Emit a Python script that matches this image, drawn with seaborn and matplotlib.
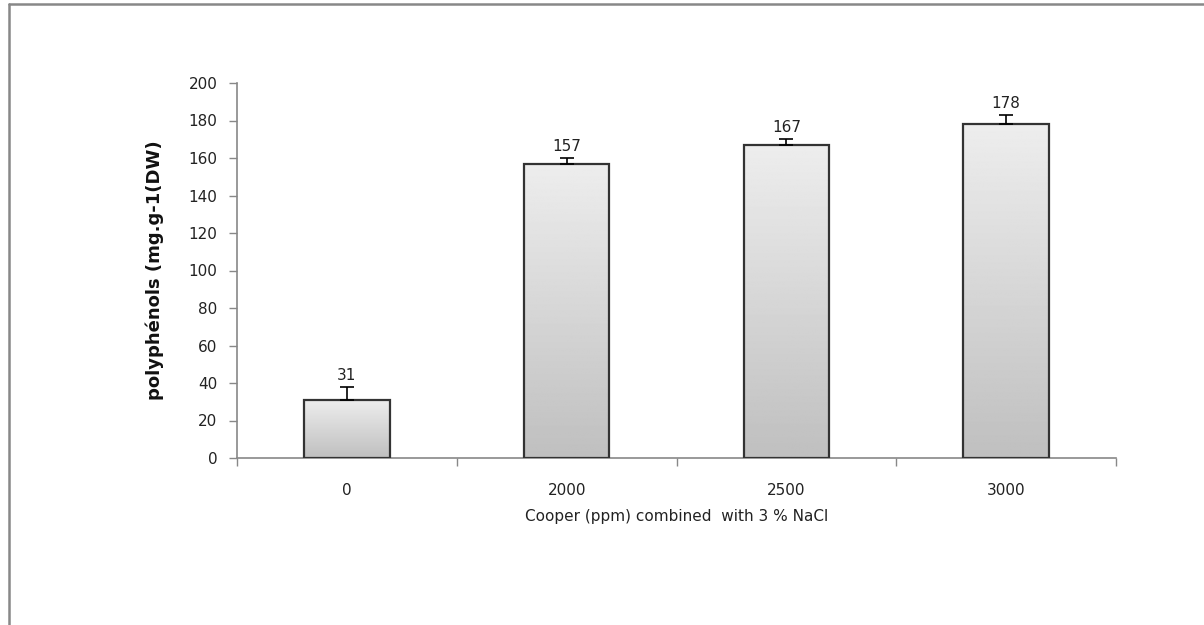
import numpy as np
import pandas as pd
import seaborn as sns
import matplotlib.pyplot as plt
from matplotlib.lines import Line2D

copper = ["0", "2000", "2500", "3000"]
polyphenols = [31, 157, 167, 178]
errors = [7, 3, 3, 5]

df = pd.DataFrame({"copper": copper, "polyphenols": polyphenols})

sns.set_style("white")
plt.rcParams["font.family"] = ["DejaVu Sans"]

fig = plt.figure(figsize=(12.04, 6.25), dpi=100)
ax = fig.add_axes([0.1968, 0.2672, 0.7302, 0.6])

sns.barplot(data=df, x="copper", y="polyphenols", color="#d8d8d8",
            width=0.39, edgecolor="#333333", linewidth=1.6, ax=ax)

# vertical grey gradient inside each bar
grad = np.linspace(0.93, 0.75, 256).reshape(-1, 1)
for p in ax.patches:
    x0, w, h = p.get_x(), p.get_width(), p.get_height()
    im = ax.imshow(grad, cmap="gray", vmin=0, vmax=1, aspect="auto",
                   extent=[x0, x0 + w, 0, h], origin="upper", zorder=p.get_zorder())
    im.set_clip_path(p)
    p.set_facecolor("none")
    p.set_zorder(3)

ax.errorbar(range(len(copper)), polyphenols, yerr=[[0] * len(errors), errors],
            fmt="none", ecolor="black", elinewidth=1.2, capsize=5, capthick=1.2, zorder=4)

for i, (v, e) in enumerate(zip(polyphenols, errors)):
    ax.text(i, v + e + 2, f"{v}", ha="center", va="bottom", fontsize=11, color="#222222")

ax.set_xlim(-0.5, 3.5)
ax.set_ylim(0, 200)
ax.set_yticks(range(0, 201, 20))
ax.set_xticks(range(len(copper)))
ax.set_xticklabels(copper)
ax.set_xticks(np.arange(-0.5, 3.6, 1), minor=True)
ax.tick_params(axis="x", which="major", length=0, pad=18, labelsize=11, labelcolor="#222222")
ax.tick_params(axis="x", which="minor", bottom=True, length=6, width=1, color="#888888",
               direction="out")
ax.tick_params(axis="y", length=6, width=1, color="#888888", direction="out", left=True,
               labelsize=11, labelcolor="#222222", pad=8)

for s in ["top", "right"]:
    ax.spines[s].set_visible(False)
for s in ["left", "bottom"]:
    ax.spines[s].set_color("#888888")
    ax.spines[s].set_linewidth(1.2)

ax.set_xlabel("Cooper (ppm) combined  with 3 % NaCl", fontsize=11, color="#222222", labelpad=8)
ax.set_ylabel("polyphénols (mg.g-1(DW)", fontsize=13, fontweight="bold", color="#111111",
              labelpad=18)

# outer chart frame
fig.add_artist(Line2D([9 / 1204, 9 / 1204], [0, 1 - 4 / 625], color="#888888", lw=1.8,
                      transform=fig.transFigure))
fig.add_artist(Line2D([9 / 1204, 1], [1 - 4 / 625, 1 - 4 / 625], color="#888888", lw=1.8,
                      transform=fig.transFigure))

fig.savefig("out.png", dpi=100)
